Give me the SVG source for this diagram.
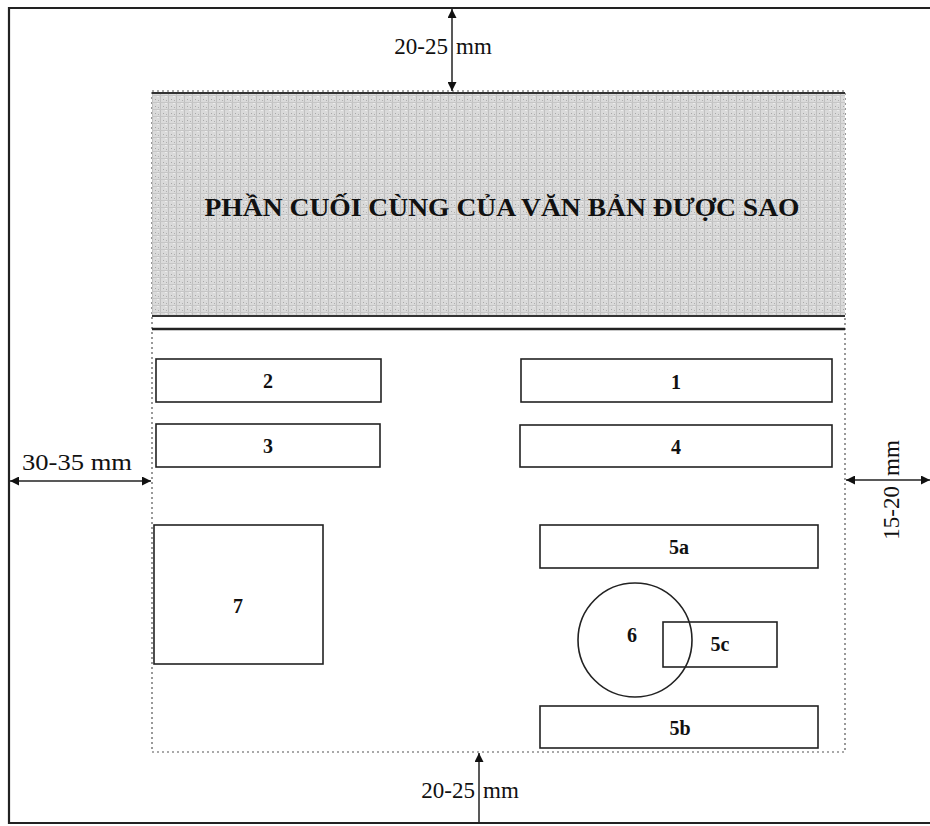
<svg xmlns="http://www.w3.org/2000/svg" width="930" height="826" viewBox="0 0 930 826">
<style>
.box{fill:#fff;stroke:#222;stroke-width:1.6}
.lbl{font-family:"Liberation Serif","Times New Roman",serif;font-weight:bold;font-size:20px;fill:#111;text-anchor:middle}
.dim{font-family:"Liberation Serif","Times New Roman",serif;font-size:23px;fill:#111}
.dl{stroke:#222;stroke-width:1.5;fill:none}
.frame{fill:none;stroke:#555;stroke-width:1.2;stroke-dasharray:2 3}
</style>
<defs>
<marker id="ah" viewBox="0 0 10 10" refX="10" refY="5" markerWidth="9" markerHeight="9" markerUnits="userSpaceOnUse" orient="auto-start-reverse">
<path d="M0,0 L10,5 L0,10 z" fill="#111"/>
</marker>
<pattern id="noise" width="8" height="7" patternUnits="userSpaceOnUse">
<rect width="8" height="7" fill="#dadada"/>
<rect x="0" y="0" width="1" height="7" fill="#c0c0c0"/>
<rect x="0" y="4" width="8" height="1" fill="#c6c6c6"/>
<rect x="3" y="1" width="1" height="1" fill="#a8a8a8"/>
<rect x="5" y="5" width="2" height="1" fill="#ececec"/>
<rect x="6" y="2" width="1" height="1" fill="#b0b0b0"/>
</pattern>
</defs>

<g id="page">
<path d="M930,8 L9,8 L9,823 L930,823" fill="none" stroke="#222" stroke-width="2.2"/>
<rect class="frame" x="152" y="91" width="693" height="661"/>
</g>

<g id="header">
<rect x="152" y="92" width="693" height="224" fill="url(#noise)"/>
<line x1="152" y1="93" x2="845" y2="93" stroke="#333" stroke-width="2"/>
<line x1="152" y1="316" x2="845" y2="316" stroke="#333" stroke-width="2"/>
<line x1="152" y1="329" x2="845" y2="329" stroke="#222" stroke-width="2.5"/>
<text x="502" y="216" textLength="595" lengthAdjust="spacingAndGlyphs" style="font-family:'Liberation Serif','Times New Roman',serif;font-weight:bold;font-size:26px;fill:#111;text-anchor:middle">PHẦN CUỐI CÙNG CỦA VĂN BẢN ĐƯỢC SAO</text>
</g>

<g id="n2"><rect class="box" x="156" y="359" width="225" height="43"/><text class="lbl" x="268" y="388">2</text></g>
<g id="n3"><rect class="box" x="156" y="424" width="224" height="43"/><text class="lbl" x="268" y="453">3</text></g>
<g id="n1"><rect class="box" x="521" y="359" width="311" height="43"/><text class="lbl" x="676" y="389">1</text></g>
<g id="n4"><rect class="box" x="520" y="425" width="312" height="42"/><text class="lbl" x="676" y="454">4</text></g>
<g id="n7"><rect class="box" x="154" y="525" width="169" height="139"/><text class="lbl" x="238" y="613">7</text></g>
<g id="n5a"><rect class="box" x="540" y="525" width="278" height="43"/><text class="lbl" x="679" y="554">5a</text></g>
<g id="n5c"><rect class="box" x="663" y="622" width="114" height="45"/><text class="lbl" x="720" y="651">5c</text></g>
<g id="n6"><circle cx="635" cy="640" r="57" fill="none" stroke="#222" stroke-width="1.6"/><text class="lbl" x="632" y="642">6</text></g>
<g id="n5b"><rect class="box" x="540" y="706" width="278" height="42"/><text class="lbl" x="680" y="735">5b</text></g>

<g id="connectors">
<line class="dl" x1="452" y1="9" x2="452" y2="91" marker-start="url(#ah)" marker-end="url(#ah)"/>
<line class="dl" x1="10" y1="481" x2="151" y2="481" marker-start="url(#ah)" marker-end="url(#ah)"/>
<line class="dl" x1="846" y1="480" x2="930" y2="480" marker-start="url(#ah)" marker-end="url(#ah)"/>
<line class="dl" x1="479" y1="753" x2="479" y2="823" marker-start="url(#ah)"/>
</g>

<g id="labels">
<text class="dim" x="448" y="54" text-anchor="end">20-25</text>
<text class="dim" x="456" y="54">mm</text>
<text class="dim" x="22" y="470" textLength="110" lengthAdjust="spacingAndGlyphs">30-35 mm</text>
<text class="dim" x="475" y="798" text-anchor="end">20-25</text>
<text class="dim" x="483" y="798">mm</text>
<text class="dim" transform="translate(899,484) rotate(-90)" text-anchor="end" x="-2">15-20</text>
<text class="dim" transform="translate(899,478) rotate(-90)" x="2">mm</text>
</g>
</svg>
